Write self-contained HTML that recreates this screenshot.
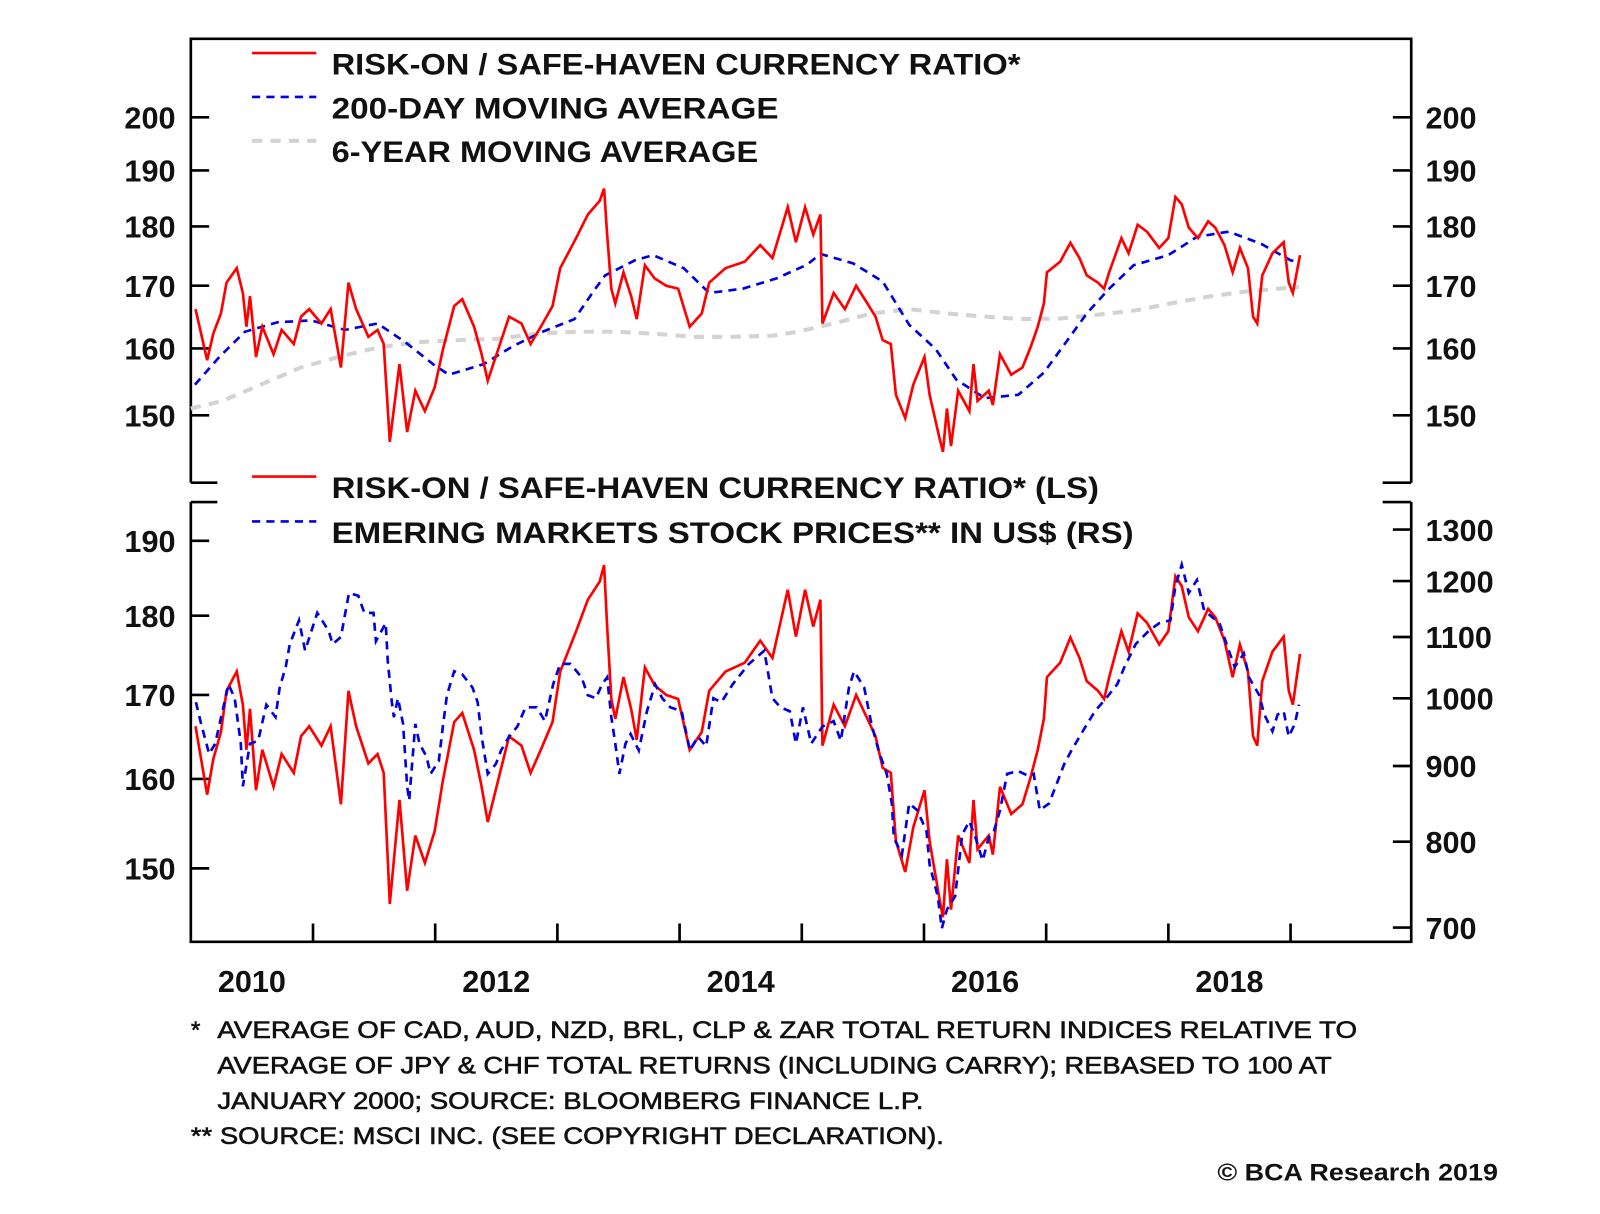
<!DOCTYPE html>
<html><head><meta charset="utf-8"><title>Risk-on / Safe-haven currency ratio</title>
<style>
html,body{margin:0;padding:0;background:#fff;}
svg{display:block;}
text{font-family:"Liberation Sans",Arial,sans-serif;fill:#111;}
</style></head>
<body>
<svg id="chart" width="1600" height="1214" viewBox="0 0 1568 1189.7" xmlns="http://www.w3.org/2000/svg">
  <g id="frame" stroke="#000" stroke-width="2.6" fill="none">
    <path d="M187,473 L187,38 L1383,38 L1383,473 M187,473 L213,473 M1355,473 L1383,473"/>
    <path d="M187,492 L187,923 L1383,923 L1383,492 M187,492 L213,492 M1355,492 L1383,492"/>
  </g>
  <g id="ticks"></g>
  <g id="series"></g>
  <g id="legend">
    <line x1="247" y1="52" x2="310" y2="52" stroke="#f00" stroke-width="2.6"/>
    <text x="325" y="73" font-size="29" font-weight="bold" textLength="675" lengthAdjust="spacingAndGlyphs">RISK-ON / SAFE-HAVEN CURRENCY RATIO*</text>
    <line x1="247" y1="95" x2="310" y2="95" stroke="#0000e0" stroke-width="2.6" stroke-dasharray="8,6"/>
    <text x="325" y="116" font-size="29" font-weight="bold" textLength="438" lengthAdjust="spacingAndGlyphs">200-DAY MOVING AVERAGE</text>
    <line x1="247" y1="138" x2="310" y2="138" stroke="#d3d3d3" stroke-width="4" stroke-dasharray="10,8"/>
    <text x="325" y="159" font-size="29" font-weight="bold" textLength="418" lengthAdjust="spacingAndGlyphs">6-YEAR MOVING AVERAGE</text>
    <line x1="247" y1="467" x2="310" y2="467" stroke="#f00" stroke-width="2.6"/>
    <text x="325" y="488" font-size="29" font-weight="bold" textLength="752" lengthAdjust="spacingAndGlyphs">RISK-ON / SAFE-HAVEN CURRENCY RATIO* (LS)</text>
    <line x1="247" y1="511" x2="310" y2="511" stroke="#0000e0" stroke-width="2.6" stroke-dasharray="8,6"/>
    <text x="325" y="532" font-size="29" font-weight="bold" textLength="786" lengthAdjust="spacingAndGlyphs">EMERING MARKETS STOCK PRICES** IN US$ (RS)</text>
  </g>
  <g id="notes" font-size="24" stroke="#111" stroke-width="0.6">
    <text x="187" y="1017">*</text>
    <text x="213" y="1017" textLength="1117" lengthAdjust="spacingAndGlyphs">AVERAGE OF CAD, AUD, NZD, BRL, CLP &amp; ZAR TOTAL RETURN INDICES RELATIVE TO</text>
    <text x="213" y="1052" textLength="1092" lengthAdjust="spacingAndGlyphs">AVERAGE OF JPY &amp; CHF TOTAL RETURNS (INCLUDING CARRY); REBASED TO 100 AT</text>
    <text x="213" y="1087" textLength="692" lengthAdjust="spacingAndGlyphs">JANUARY 2000; SOURCE: BLOOMBERG FINANCE L.P.</text>
    <text x="187" y="1121" textLength="738" lengthAdjust="spacingAndGlyphs">** SOURCE: MSCI INC. (SEE COPYRIGHT DECLARATION).</text>
    <text x="1193" y="1157" font-weight="bold" stroke-width="0" textLength="275" lengthAdjust="spacingAndGlyphs">© BCA Research 2019</text>
  </g>
</svg>
<script>
// years since start of 2010
const ratioT = [.038,.134,.184,.246,.292,.376,.426,.455,.484,.534,.585,.677,.743,.843,.902,.969,1.069,1.144,1.228,1.290,1.353,1.453,1.528,1.578,1.612,1.628,1.708,1.770,1.837,1.916,1.996,2.063,2.155,2.221,2.318,2.380,2.430,2.514,2.605,2.706,2.781,2.864,2.960,3.023,3.153,3.249,3.346,3.382,3.407,3.441,3.474,3.541,3.603,3.649,3.716,3.795,3.891,3.988,4.083,4.181,4.242,4.376,4.534,4.660,4.760,4.885,4.952,5.027,5.094,5.152,5.169,5.261,5.353,5.445,5.537,5.603,5.662,5.729,5.770,5.846,5.912,6.004,6.046,6.129,6.155,6.188,6.221,6.280,6.372,6.405,6.438,6.530,6.564,6.622,6.714,6.806,6.873,6.931,6.981,7.006,7.115,7.198,7.273,7.332,7.424,7.474,7.516,7.616,7.674,7.749,7.825,7.925,8.000,8.058,8.109,8.167,8.242,8.326,8.384,8.459,8.526,8.585,8.651,8.693,8.727,8.768,8.852,8.944,8.985,9.019,9.077];
const ratio = [166.2,158.2,162.3,165.5,170.5,172.9,168.8,163.4,168.3,158.7,163.4,159.1,162.9,160.7,165.0,166.2,163.9,166.2,157.1,170.5,166.2,161.8,162.9,160.7,151.0,146.2,157.6,147.6,153.6,150.6,154.1,159.8,166.7,167.8,163.4,159.1,155.1,159.8,165.0,163.9,160.7,163.4,166.7,172.9,178.0,182.1,184.5,186.7,178.6,169.5,167.1,172.2,168.3,164.6,173.4,171.2,170.0,169.5,163.4,165.5,170.5,172.9,174.0,176.8,174.6,183.4,177.3,183.4,178.6,182.1,163.9,168.8,166.2,170.0,167.1,165.0,161.3,160.7,153.0,149.6,154.5,158.7,153.0,146.6,144.8,151.0,145.6,153.6,150.6,157.6,152.1,153.6,151.5,159.1,156.0,157.1,160.2,163.4,167.1,172.2,174.0,177.2,174.6,171.7,170.5,169.5,172.2,178.0,175.4,180.3,179.1,176.3,178.0,185.2,183.9,179.8,178.0,180.9,179.8,176.8,172.2,176.3,172.9,165.0,163.9,171.7,175.4,177.3,170.5,168.8,175.1];
const ma200T = [.033,.234,.443,.710,.985,1.261,1.528,1.754,1.996,2.113,2.397,2.622,2.864,3.140,3.299,3.390,3.633,3.783,4.033,4.242,4.518,4.793,5.044,5.152,5.420,5.662,5.879,6.096,6.263,6.497,6.772,6.981,7.148,7.332,7.516,7.716,8.000,8.234,8.493,8.760,9.002,9.069];
const ma200 = [154.5,158.7,162.6,164.1,164.4,162.9,163.9,161.0,157.4,156.0,157.6,160.2,162.5,164.6,169.2,171.7,174.2,175.1,172.9,168.8,169.5,171.2,173.5,175.3,173.7,170.7,163.7,159.9,155.3,152.5,153.0,156.3,160.6,165.5,169.5,173.4,175.1,178.2,179.1,177.0,174.2,174.0];
const ma6yT = [0,.259,.585,.902,1.228,1.545,1.871,2.188,2.514,2.831,3.157,3.474,3.791,4.117,4.434,4.760,4.969,5.261,5.570,5.879,6.188,6.497,6.806,7.115,7.424,7.733,8.042,8.351,8.660,8.969,9.069];
const ma6y = [151.0,152.1,154.6,157.1,158.8,160.2,161.0,161.3,161.5,162.3,162.6,162.6,162.3,161.8,161.8,162.0,162.6,163.9,165.5,166.2,165.5,165.0,164.6,164.7,165.3,166.0,167.2,168.3,169.1,169.6,169.8];
const emT = [.042,.084,.150,.200,.259,.309,.359,.409,.426,.484,.551,.618,.693,.727,.777,.810,.885,.935,1.035,1.127,1.161,1.228,1.294,1.370,1.420,1.495,1.515,1.595,1.612,1.645,1.662,1.695,1.737,1.770,1.787,1.837,1.871,1.929,1.962,2.029,2.063,2.096,2.155,2.221,2.305,2.347,2.380,2.430,2.497,2.539,2.605,2.672,2.739,2.831,2.898,2.965,3.023,3.106,3.157,3.198,3.248,3.315,3.365,3.407,3.441,3.474,3.507,3.557,3.599,3.666,3.733,3.800,3.858,3.925,4.017,4.084,4.150,4.217,4.276,4.342,4.434,4.568,4.693,4.760,4.827,4.902,4.952,5.010,5.077,5.169,5.261,5.319,5.386,5.428,5.511,5.570,5.628,5.695,5.737,5.754,5.820,5.879,5.946,6.021,6.046,6.113,6.146,6.188,6.255,6.313,6.372,6.422,6.480,6.530,6.572,6.622,6.681,6.772,6.856,6.898,6.948,7.023,7.090,7.148,7.207,7.299,7.399,7.491,7.582,7.641,7.733,7.841,7.925,8.017,8.058,8.109,8.167,8.234,8.292,8.351,8.418,8.476,8.543,8.618,8.660,8.743,8.785,8.852,8.894,8.944,8.985,9.035,9.069];
const em = [994,961,917,932,980,1022,1000,932,872,932,936,990,971,1017,1050,1088,1129,1077,1142,1111,1088,1100,1178,1173,1142,1142,1093,1124,1060,994,971,1000,961,872,853,961,932,913,889,907,957,1005,1043,1038,1017,994,942,889,903,922,942,957,986,986,965,1022,1055,1055,1043,1033,1005,1000,1022,1033,971,932,889,932,946,922,980,1022,1000,986,980,922,942,928,1000,994,1022,1055,1077,1000,986,980,932,986,932,957,965,936,1017,1043,1017,961,922,889,849,805,784,849,840,813,772,735,699,720,735,809,826,805,777,805,813,840,889,893,886,889,840,849,877,903,922,950,980,1000,1022,1050,1088,1111,1124,1129,1191,1231,1178,1202,1147,1136,1124,1088,1050,1072,1033,1005,975,950,975,980,942,961,990];
const topTicks = [200,190,180,170,160,150];
const botLeftTicks = [190,180,170,160,150];
const botRightTicks = [1300,1200,1100,1000,900,800,700];
const yearTicks = [1,2,3,4,5,6,7,8,9];
const yearLabels = ["2010","2012","2014","2016","2018"];

const NS = "http://www.w3.org/2000/svg";
const xT = t => 187 + t * 119.75;
const yTop = v => 407 - 1015 * Math.log(v / 150);
const yBotL = v => 851 - 1358 * Math.log(v / 150);
const yBotR = v => 909 - 630 * Math.log(v / 700);

function mk(tag, attrs, parent) {
  const e = document.createElementNS(NS, tag);
  for (const k in attrs) e.setAttribute(k, attrs[k]);
  parent.appendChild(e);
  return e;
}
function pathD(ts, vs, fy) {
  return ts.map((t, i) => (i ? "L" : "M") + xT(t).toFixed(1) + "," + fy(vs[i]).toFixed(1)).join(" ");
}
const ser = document.getElementById("series");
const tk = document.getElementById("ticks");

let p;
p = mk("path", {d: pathD(ma6yT, ma6y, yTop), fill: "none", stroke: "#d3d3d3", "stroke-width": 4, "stroke-dasharray": "10,8"}, ser);


p = mk("path", {d: pathD(ma200T, ma200, yTop), fill: "none", stroke: "#0000e0", "stroke-width": 2.6, "stroke-dasharray": "8,6"}, ser);


p = mk("path", {d: pathD(ratioT, ratio, yTop), fill: "none", stroke: "#f00", "stroke-width": 2.6, "stroke-linejoin": "miter"}, ser);


p = mk("path", {d: pathD(ratioT, ratio, yBotL), fill: "none", stroke: "#f00", "stroke-width": 2.6}, ser);


p = mk("path", {d: pathD(emT, em, yBotR), fill: "none", stroke: "#0000e0", "stroke-width": 2.6, "stroke-dasharray": "8,6"}, ser);



topTicks.forEach(v => {
  const y = yTop(v);
  let l = mk("path", {d: `M187,${y}H205M1365,${y}H1383`, stroke: "#000", "stroke-width": 2.6}, tk);
  
  
  let a = mk("text", {x: 172, y: y + 11, "text-anchor": "end", "font-size": 30, "font-weight": "bold"}, tk);
  a.textContent = v;
  
  
  let b = mk("text", {x: 1397, y: y + 11, "font-size": 30, "font-weight": "bold"}, tk);
  b.textContent = v;
  
  
});
botLeftTicks.forEach(v => {
  const y = yBotL(v);
  let l = mk("path", {d: `M187,${y}H205`, stroke: "#000", "stroke-width": 2.6}, tk);
  
  
  let a = mk("text", {x: 172, y: y + 11, "text-anchor": "end", "font-size": 30, "font-weight": "bold"}, tk);
  a.textContent = v;
  
  
});
botRightTicks.forEach(v => {
  const y = yBotR(v);
  let l = mk("path", {d: `M1365,${y}H1383`, stroke: "#000", "stroke-width": 2.6}, tk);
  
  
  let b = mk("text", {x: 1397, y: y + 11, "font-size": 30, "font-weight": "bold"}, tk);
  b.textContent = v;
  
  
});
yearTicks.forEach(t => {
  const x = xT(t);
  let l = mk("path", {d: `M${x},923V905`, stroke: "#000", "stroke-width": 2.6}, tk);
  
  
});
yearLabels.forEach((s, i) => {
  const x = xT(i * 2 + 0.5);
  let a = mk("text", {x: x, y: 972, "text-anchor": "middle", "font-size": 30, "font-weight": "bold"}, tk);
  a.textContent = s;
  
  
});
</script>
</body></html>
